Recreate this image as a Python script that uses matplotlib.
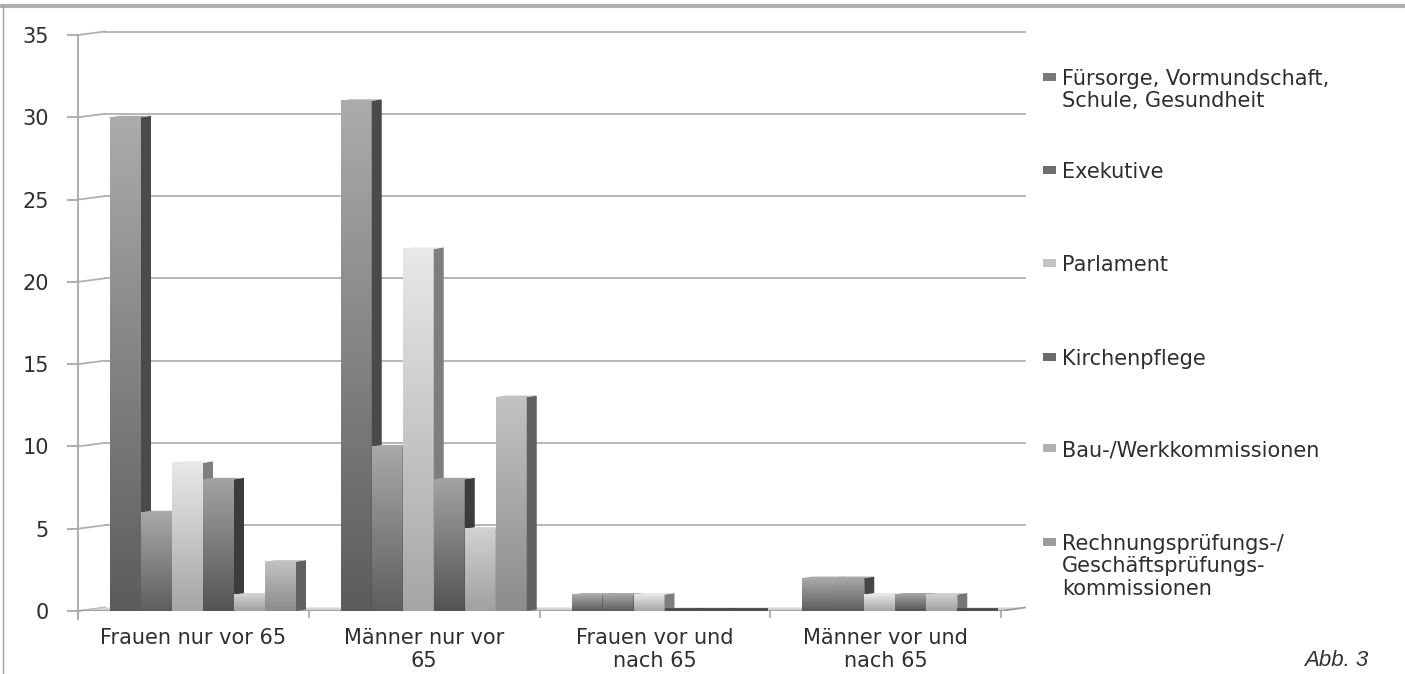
import numpy as np
import matplotlib
matplotlib.use("Agg")
import matplotlib.pyplot as plt
from matplotlib.patches import Polygon, Rectangle
from matplotlib.colors import to_rgb

plt.rcParams['font.family'] = ['DejaVu Sans']

# groups on the x axis
groups = ["Frauen nur vor 65", "Männer nur vor\n65",
          "Frauen vor und\nnach 65", "Männer vor und\nnach 65"]

# one list per office type, one value per group
series_names = ["Fürsorge, Vormundschaft,\nSchule, Gesundheit", "Exekutive",
                "Parlament", "Kirchenpflege", "Bau-/Werkkommissionen",
                "Rechnungsprüfungs-/\nGeschäftsprüfungs-\nkommissionen"]
fuersorge = [30, 31, 1, 2]
exekutive = [6, 10, 1, 2]
parlament = [9, 22, 1, 1]
kirchenpflege = [8, 8, 0, 1]
bau = [1, 5, 0, 1]
rechnung = [3, 13, 0, 0]
series = [fuersorge, exekutive, parlament, kirchenpflege, bau, rechnung]

y_ticks = [0, 5, 10, 15, 20, 25, 30, 35]

# (top of front face, bottom of front face, side face)
shades = [("#ababab", "#5c5c5c", "#4a4a4a"),
          ("#a8a8a8", "#5e5e5e", "#464646"),
          ("#e8e8e8", "#a6a6a6", "#7e7e7e"),
          ("#a2a2a2", "#545454", "#3c3c3c"),
          ("#d2d2d2", "#a0a0a0", "#767676"),
          ("#c2c2c2", "#8c8c8c", "#626262")]
legend_colors = ["#7a7a7a", "#6e6e6e", "#c4c4c4", "#6a6a6a", "#b0b0b0", "#9c9c9c"]

W, H = 1405, 674
PX = 230.75          # pixels per group
PY = 576 / 35        # pixels per unit
XR = 4.2

fig = plt.figure(figsize=(W / 100, H / 100), dpi=100)
ax = fig.add_axes([78 / W, 63 / H, XR * PX / W, 576 / H])
ax.set_facecolor("none")
for s in ax.spines.values():
    s.set_visible(False)

bar_w = 31 / PX
start = 32 / PX
side_dx, side_dy = 10 / PX, 1.5 / PY
back_dx, back_dy = 27 / PX, 3.5 / PY
back_end = (1025 - 78) / PX
grid_c = "#b0b0b0"

# back wall gridlines and the slanted links to the front axis
for v in y_ticks:
    ax.plot([0, back_dx], [v, v + back_dy], color=grid_c, lw=1.3, clip_on=False, zorder=1)
    if v > 0:
        ax.plot([back_dx, back_end], [v + back_dy] * 2, color=grid_c, lw=1.3,
                clip_on=False, zorder=1)
ax.plot([0, 0], [-0.5, 35], color="#a8a8a8", lw=1.3, clip_on=False, zorder=1)

# floor
floor = Polygon([(0, 0), (4, 0), (back_end, back_dy), (back_dx, back_dy)],
                closed=True, facecolor="#d4d4d4", edgecolor="none", zorder=1.5)
ax.add_patch(floor)
ax.plot([0, 4, back_end], [0, 0, back_dy], color="#9a9a9a", lw=1.3, zorder=1.6)

# bars
for g in range(len(groups)):
    for j, vals in enumerate(series):
        v = vals[g]
        top, bot, side = shades[j]
        left = g + start + j * bar_w
        right = left + bar_w
        z = 3 + g + j * 0.1
        if v == 0:
            ax.plot([left, right + side_dx], [0.04, 0.04], color="#4e4e4e", lw=2.8,
                    solid_capstyle="butt", zorder=z)
            continue
        grad = np.linspace(to_rgb(top), to_rgb(bot), 64).reshape(64, 1, 3)
        ax.imshow(grad, extent=[left, right, 0, v], aspect="auto", origin="upper",
                  interpolation="bilinear", zorder=z)
        ax.add_patch(Polygon([(right, 0), (right + side_dx, side_dy),
                              (right + side_dx, v + side_dy), (right, v)],
                             closed=True, facecolor=side, edgecolor="none", zorder=z))
        ax.add_patch(Polygon([(left, v), (right, v), (right + side_dx, v + side_dy),
                              (left + side_dx, v + side_dy)],
                             closed=True, facecolor=top, edgecolor="none", zorder=z))

ax.set_xlim(0, XR)
ax.set_ylim(0, 35)

text_c = "#2e2e2e"
ax.set_yticks(y_ticks)
ax.tick_params(axis="y", length=8, width=1.3, color="#a8a8a8", pad=13,
               labelsize=15, labelcolor=text_c)
ax.set_xticks([0, 1, 2, 3, 4])
ax.set_xticklabels([])
ax.tick_params(axis="x", which="major", length=5, width=1.2, color="#a8a8a8")
ax.set_xticks([g + 0.5 for g in range(len(groups))], groups, minor=True)
ax.tick_params(axis="x", which="minor", length=0, pad=12, labelsize=15,
               labelcolor=text_c)
for lab in ax.get_xticklabels(minor=True):
    lab.set_multialignment("center")
    lab.set_linespacing(1.2)

# legend, one entry per office type
legend_y = [77, 170, 263, 357, 448, 542]
for name, col, yc in zip(series_names, legend_colors, legend_y):
    fig.add_artist(Rectangle((1043 / W, 1 - (yc + 4) / H), 13 / W, 8 / H,
                             transform=fig.transFigure, facecolor=col, edgecolor="none"))
    fig.text(1062 / W, 1 - (yc - 8) / H, name, fontsize=15, color=text_c,
             va="top", ha="left", linespacing=1.15)

fig.text(1368 / W, 1 - 660 / H, "Abb. 3", fontsize=16, style="italic",
         family="Liberation Sans", color="#333333", ha="right", va="center")

# frame edges
fig.add_artist(plt.Line2D([0, 1], [1 - 5.5 / H] * 2, transform=fig.transFigure,
                          color="#b0b0b0", lw=3))
fig.add_artist(plt.Line2D([2.5 / W] * 2, [0, 1 - 5.5 / H], transform=fig.transFigure,
                          color="#a0a0a0", lw=1))

fig.savefig("out.png", dpi=100, facecolor="white")
